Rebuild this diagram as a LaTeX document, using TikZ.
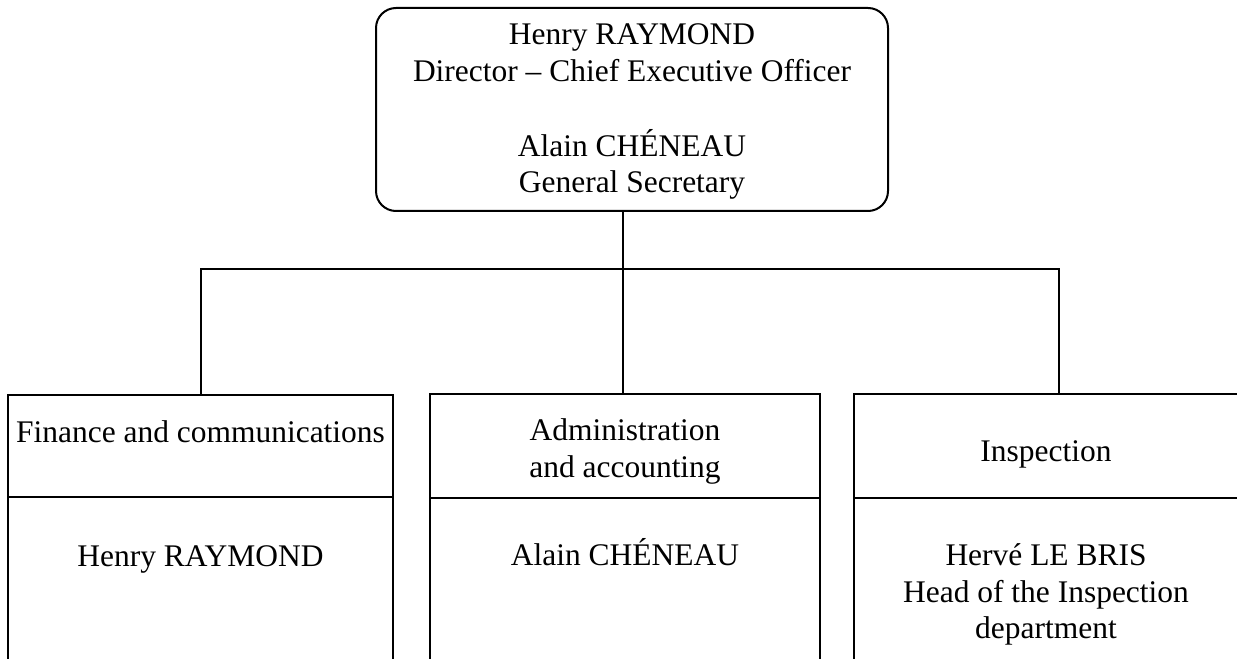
\documentclass[tikz,border=0pt]{standalone}
\usepackage{fontspec}
\setmainfont{Liberation Serif}
\usetikzlibrary{positioning}

\begin{document}
\begin{tikzpicture}
        [ x = .75pt, y = -.75pt
        , line width = 1.5pt
        , every node/.style =
          { font = \fontsize{23.6}{27.75}\selectfont, outer sep = 0pt }
        , topbox/.style =
          { draw, rectangle, rounded corners = 15pt
          , minimum width = 384pt, minimum height = 152.25pt }
        , head/.style =
          { draw, rectangle, minimum height = 78pt }
        , body/.style =
          { draw, rectangle, minimum height = 167.25pt }
        , txt/.style =
          { anchor = base, align = center, inner sep = 0pt }
        , link/.style =
          { line width = 1.5pt }
        ]
        \useasboundingbox (0,0) rectangle (1237,659);
        \clip (0,0) rectangle (1237,659);

        % boxes
        \node [topbox] (ceo) at (632,109.5) {};
        \node [head, minimum width=288.75pt, minimum height=76.5pt] (fin) at (200.5,446) {};
        \node [head, minimum width=292.5pt] (adm) at (625,446) {};
        \node [head, minimum width=288pt] (insp) at (1046,446) {};
        \node [body, minimum width=288.75pt] (finb) [below=0pt of fin] {};
        \node [body, minimum width=292.5pt] (admb) [below=0pt of adm] {};
        \node [body, minimum width=288pt] (inspb) [below=0pt of insp] {};

        % texts
        \node [txt] (ceot1) at (632,45) {Henry RAYMOND};
        \node [txt] (ceot2) at (632,82) {Director -- Chief Executive Officer};
        \node [txt] (ceot3) at (632,157) {Alain CHÉNEAU};
        \node [txt] (ceot4) at (632,193) {General Secretary};
        \node [txt] (fint) at (200.5,442) {Finance and communications};
        \node [txt] (admt1) at (625,440) {Administration};
        \node [txt] (admt2) at (625,477) {and accounting};
        \node [txt] (inspt) at (1046,461) {Inspection};
        \node [txt] (finbt) at (200.5,566) {Henry RAYMOND};
        \node [txt] (admbt) at (625,565) {Alain CHÉNEAU};
        \node [txt] (inspbt1) at (1046,565) {Hervé LE BRIS};
        \node [txt] (inspbt2) at (1046,602) {Head of the Inspection};
        \node [txt] (inspbt3) at (1046,638) {department};

        % connectors
        \coordinate (bus) at (623,269);
        \coordinate (drop) at (1059,269);
        \draw [link] (ceo.south -| bus) -- (bus);
        \draw [link] (bus) -| (fin.north);
        \draw [link] (bus) -- (bus |- adm.north);
        \draw [link] (bus) -- (drop) -- (drop |- insp.north);
      \end{tikzpicture}
\end{document}
